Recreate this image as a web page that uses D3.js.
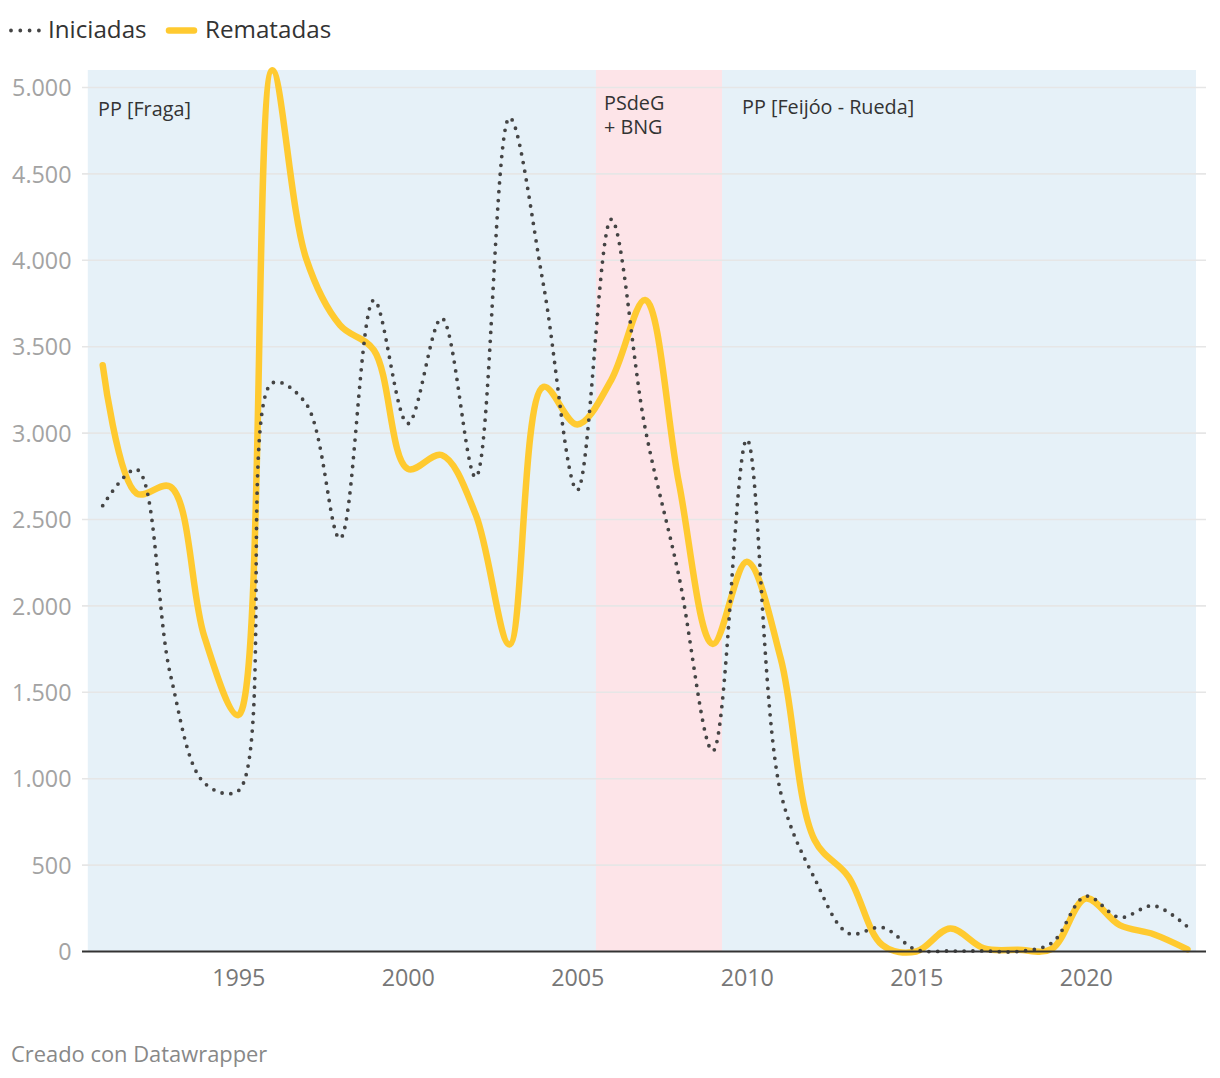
<!DOCTYPE html>
<html>
<head>
<meta charset="utf-8">
<script src="https://cdn.jsdelivr.net/npm/d3@7"></script>
<style>
  html, body { margin: 0; padding: 0; background: #fff; }
  svg { display: block; font-family: "Open Sans", "Noto Sans", sans-serif; }
</style>
</head>
<body>
<svg id="chart" width="1220" height="1078"></svg>
<script>
// ---- data ----
const years = [1991,1992,1993,1994,1995,1996,1997,1998,1999,2000,2001,2002,2003,2004,2005,2006,2007,2008,2009,2010,2011,2012,2013,2014,2015,2016,2017,2018,2019,2020,2021,2022,2023];
const iniciadas = [2580,2790,1600,975,930,3290,3170,2390,3770,3055,3665,2745,4825,3860,2670,4237,3030,2170,1160,2963,920,423,105,139,10,3,3,0,50,320,197,265,143];
const rematadas = [3393,2651,2689,1821,1368,5100,4011,3625,3480,2793,2873,2530,1777,3268,3050,3307,3770,2709,1779,2255,1696,645,432,37,0,133,18,10,15,307,153,100,12];
const seriesNames = ["Iniciadas", "Rematadas"];
const periodLabels = [["PP [Fraga]"], ["PSdeG", "+ BNG"], ["PP [Feijóo - Rueda]"]];
const periodStart = [1990.56, 2005.55, 2009.27];
const periodEnd = [2005.55, 2009.27, 2023.25];
const yTicks = [0,500,1000,1500,2000,2500,3000,3500,4000,4500,5000];
const xTicks = [1995,2000,2005,2010,2015,2020];
const footer = "Creado con Datawrapper";

// ---- setup ----
const svg = d3.select("#chart");
const x = d3.scaleLinear().domain([1991, 2023]).range([102.7, 1187.5]);
const y = d3.scaleLinear().domain([0, 5000]).range([951.5, 87.5]);
const locale = d3.formatLocale({decimal: ",", thousands: ".", grouping: [3], currency: ["", "€"]});
const fmt = locale.format(",d");

const periodColors = ["#e6f1f8", "#fde4e8", "#e6f1f8"];

// shaded periods
svg.append("g").selectAll("rect")
  .data(periodStart.map((s, i) => ({s, e: periodEnd[i], c: periodColors[i]})))
  .join("rect")
  .attr("x", d => x(d.s))
  .attr("width", d => x(d.e) - x(d.s))
  .attr("y", 70)
  .attr("height", y(0) - 70)
  .attr("fill", d => d.c);

// gridlines
const gridG = svg.append("g");
gridG.selectAll("line").data(yTicks.filter(t => t > 0)).join("line")
  .attr("x1", 82).attr("x2", 1206)
  .attr("y1", d => y(d)).attr("y2", d => y(d))
  .attr("stroke", "#e6e6e6").attr("stroke-width", 1.6);

// y axis labels
const yAxis = d3.axisLeft(y).tickValues(yTicks).tickFormat(fmt).tickSize(0).tickPadding(0);
const yG = svg.append("g").attr("transform", "translate(71.5,0)").call(yAxis);
yG.select(".domain").remove();
yG.selectAll("text").attr("fill", "#a3a3a3").attr("font-size", 23.3)
  .attr("font-family", "'Open Sans', sans-serif").attr("dy", "0.35em");

// x axis labels
const xAxis = d3.axisBottom(x).tickValues(xTicks).tickFormat(d3.format("d")).tickSize(0).tickPadding(0);
const xG = svg.append("g").attr("transform", "translate(0,969)").call(xAxis);
xG.select(".domain").remove();
xG.selectAll("text").attr("fill", "#777").attr("font-size", 23.3)
  .attr("font-family", "'Open Sans', sans-serif").attr("dy", "0.71em");

// period annotations
const annX = [98, 604, 742];
const annY = [116, 110, 114];
periodLabels.forEach((lines, i) => {
  const t = svg.append("text").attr("x", annX[i]).attr("y", annY[i])
    .attr("fill", "#333").attr("font-size", 19.8);
  lines.forEach((l, j) => t.append("tspan").attr("x", annX[i]).attr("dy", j === 0 ? 0 : 24).text(l));
});

// lines
const line = d3.line().curve(d3.curveCatmullRom.alpha(0.5))
  .x((d, i) => x(years[i])).y(d => y(d));

svg.append("path").datum(rematadas)
  .attr("d", line).attr("fill", "none")
  .attr("stroke", "#ffca30").attr("stroke-width", 6.5)
  .attr("stroke-linecap", "round").attr("stroke-linejoin", "round");

svg.append("path").datum(iniciadas)
  .attr("d", line).attr("fill", "none")
  .attr("stroke", "#444").attr("stroke-width", 3.8)
  .attr("stroke-dasharray", "0 8.8")
  .attr("stroke-linecap", "round");

// baseline
svg.append("line").attr("x1", 82).attr("x2", 1206)
  .attr("y1", y(0)).attr("y2", y(0))
  .attr("stroke", "#333").attr("stroke-width", 2);

// legend
const lg = svg.append("g");
lg.append("line").attr("x1", 11).attr("x2", 40).attr("y1", 30.5).attr("y2", 30.5)
  .attr("stroke", "#444").attr("stroke-width", 3.8).attr("stroke-dasharray", "0 9.3").attr("stroke-linecap", "round");
lg.append("text").attr("x", 48).attr("y", 38.3).attr("font-size", 24.2).attr("fill", "#333").text(seriesNames[0]);
lg.append("line").attr("x1", 169).attr("x2", 194).attr("y1", 30.5).attr("y2", 30.5)
  .attr("stroke", "#ffca30").attr("stroke-width", 6.5).attr("stroke-linecap", "round");
lg.append("text").attr("x", 205).attr("y", 38.3).attr("font-size", 24.2).attr("fill", "#333").text(seriesNames[1]);

// footer
svg.append("text").attr("x", 11).attr("y", 1062).attr("font-size", 21.9).attr("fill", "#888").text(footer);
</script>
</body>
</html>
